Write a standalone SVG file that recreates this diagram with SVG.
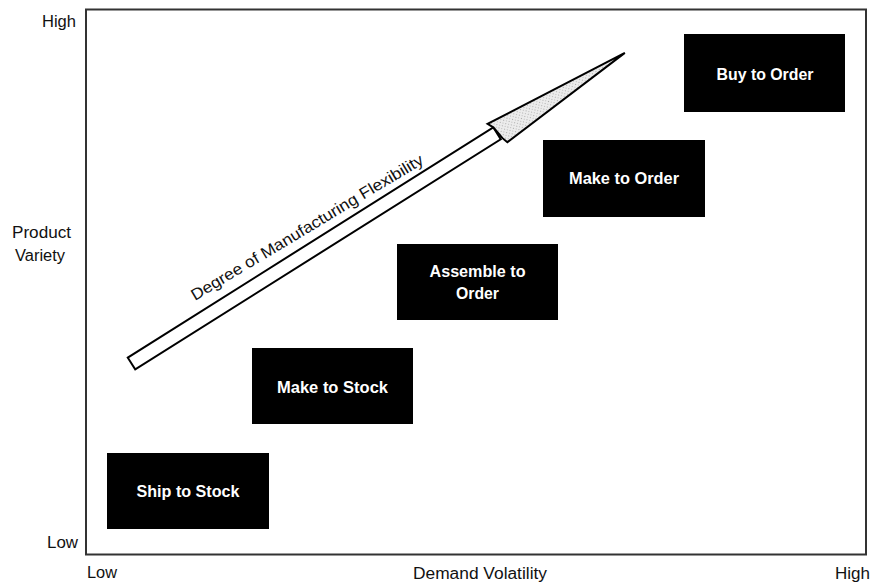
<svg xmlns="http://www.w3.org/2000/svg" width="872" height="586" viewBox="0 0 872 586">
  <style>
    .axis { font-family: "Liberation Sans", Arial, sans-serif; font-size: 16px; fill: #111; }
    .box rect { fill: #000; }
    .box text { font-family: "Liberation Sans", Arial, sans-serif; font-size: 16px; font-weight: bold; fill: #fff; text-anchor: middle; }
    .frame { fill: none; stroke: #333; stroke-width: 2; }
    .arrow { fill: #fff; stroke: #000; stroke-width: 2; stroke-linejoin: miter; }
    .head { fill: url(#stipple); stroke: #000; stroke-width: 2; }
    .flex { font-family: "Liberation Sans", Arial, sans-serif; font-size: 16px; fill: #111; }
  </style>
  <defs>
    <!-- light dotted screen for the arrowhead -->
    <pattern id="stipple" width="4" height="4" patternUnits="userSpaceOnUse">
      <rect width="4" height="4" fill="#ececec"/>
      <rect x="0" y="0" width="1" height="1" fill="#aaa"/>
      <rect x="2" y="2" width="1" height="1" fill="#bbb"/>
    </pattern>
  </defs>

  <rect width="872" height="586" fill="#fff"/>

  <!-- plot frame -->
  <rect class="frame" x="86" y="9.5" width="780" height="545"/>

  <!-- axis labels -->
  <g id="axis-labels">
    <text class="axis" x="42" y="27" textLength="34" lengthAdjust="spacingAndGlyphs">High</text>
    <text class="axis" x="47" y="548" textLength="31" lengthAdjust="spacingAndGlyphs">Low</text>
    <text class="axis" x="12" y="238" textLength="59" lengthAdjust="spacingAndGlyphs">Product</text>
    <text class="axis" x="15" y="261" textLength="50" lengthAdjust="spacingAndGlyphs">Variety</text>
    <text class="axis" x="87" y="578" textLength="30" lengthAdjust="spacingAndGlyphs">Low</text>
    <text class="axis" x="413" y="579" textLength="134" lengthAdjust="spacingAndGlyphs">Demand Volatility</text>
    <text class="axis" x="835" y="579" textLength="35" lengthAdjust="spacingAndGlyphs">High</text>
  </g>

  <!-- flexibility arrow -->
  <g id="connectors">
    <g id="flexibility-arrow" transform="translate(131.5,363.5) rotate(-32.2)">
      <polygon class="arrow" points="0,-7 432,-7 432,7 0,7"/>
      <polygon class="head" points="432,-7 429,-13 583,0 436,13 434,7"/>
    </g>
    <text class="flex" transform="translate(195,301) rotate(-31)" textLength="268" lengthAdjust="spacingAndGlyphs">Degree of Manufacturing Flexibility</text>
  </g>

  <!-- strategy boxes -->
  <g id="ship-to-stock" class="box">
    <rect x="107" y="453" width="162" height="76"/>
    <text x="188" y="497" textLength="103" lengthAdjust="spacingAndGlyphs">Ship to Stock</text>
  </g>
  <g id="make-to-stock" class="box">
    <rect x="252" y="348" width="161" height="76"/>
    <text x="332.5" y="393" textLength="111" lengthAdjust="spacingAndGlyphs">Make to Stock</text>
  </g>
  <g id="assemble-to-order" class="box">
    <rect x="397" y="244" width="161" height="76"/>
    <text x="477.5" y="277" textLength="96" lengthAdjust="spacingAndGlyphs">Assemble to</text>
    <text x="477.5" y="299" textLength="43" lengthAdjust="spacingAndGlyphs">Order</text>
  </g>
  <g id="make-to-order" class="box">
    <rect x="543" y="140" width="162" height="77"/>
    <text x="624" y="184" textLength="110" lengthAdjust="spacingAndGlyphs">Make to Order</text>
  </g>
  <g id="buy-to-order" class="box">
    <rect x="684" y="34" width="161" height="78"/>
    <text x="765" y="80" textLength="97" lengthAdjust="spacingAndGlyphs">Buy to Order</text>
  </g>
</svg>
